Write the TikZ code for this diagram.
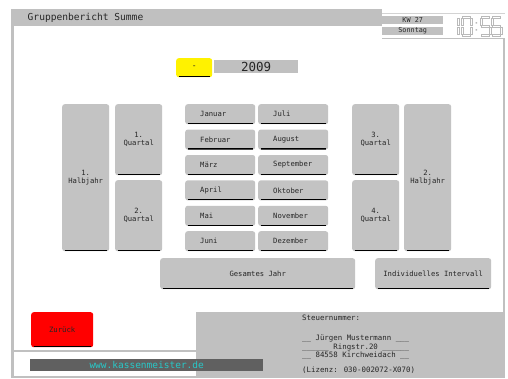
\documentclass[tikz,border=0pt]{standalone}
\usepackage{fontspec}
\newfontfamily\mono{DejaVu Sans Mono}
\definecolor{btn}{RGB}{195,195,195}
\definecolor{frame}{RGB}{192,192,192}
\definecolor{shade}{RGB}{80,80,80}
\definecolor{urlbar}{RGB}{96,96,96}
\definecolor{urltext}{RGB}{40,200,200}
\definecolor{clock}{RGB}{185,185,185}
\tikzset{
  btn/.style={fill=btn, rounded corners=2.5pt, anchor=north west, inner sep=0pt,
    text=black!85, font=\mono\fontsize{7.2}{8}\selectfont, align=center,
    path picture={\draw[shade, line width=1.2pt]
      ([xshift=2.5pt,yshift=0.6pt]path picture bounding box.south west) --
      ([xshift=-2.5pt,yshift=0.6pt]path picture bounding box.south east);}},
  month/.style={btn, minimum width=70pt, minimum height=20pt, text width=40pt, align=left},
  quart/.style={btn, minimum width=47pt, minimum height=71pt},
  half/.style={btn, minimum width=47pt, minimum height=147pt},
  plain/.style={anchor=north west, inner sep=0pt, text=black!85},
  info/.style={anchor=west, inner sep=0pt, text=black!85, font=\mono\fontsize{7.4}{8}\selectfont},
  seg/.style={draw=clock, line width=0.5pt}
}
\begin{document}
\begin{tikzpicture}[x=1pt,y=-1pt]
\useasboundingbox (0,0) rectangle (508,378);
% frame
\fill[frame] (11,9) rectangle (382,26);
\node[anchor=west, inner sep=0pt, text=black!85, font=\mono\fontsize{9.6}{10}\selectfont] (title) at (27.5,17.5) {Gruppenbericht Summe};
\fill[frame] (11,26) rectangle (13.5,378);
\fill[frame] (502.5,38) rectangle (505,312);
\draw[frame!70, line width=0.8pt] (382,13) -- (505,13);
\draw[frame, line width=1.5pt] (382,38.5) -- (505,38.5);
\node[plain, fill=frame, minimum width=61pt, minimum height=8pt, font=\mono\fontsize{6.8}{7}\selectfont] (kw) at (382,16) {KW 27};
\node[plain, fill=frame, minimum width=61pt, minimum height=8pt, font=\mono\fontsize{6.8}{7}\selectfont] (day) at (382,27) {Sonntag};
% clock 10:55 (hollow seven-segment digits)
\draw[seg] (457,18) rectangle (459,25.5) (457,27.5) rectangle (459,34);
\draw[seg] (462.5,16.5) rectangle (470.5,18.5) (470,18.5) rectangle (472,25.5) (470,27.5) rectangle (472,34)
  (462.5,34) rectangle (470.5,36) (461,27.5) rectangle (463,34) (461,18.5) rectangle (463,25.5);
\fill[clock] (475.5,22) rectangle (477,23.5) (475.5,29) rectangle (477,30.5);
\draw[seg] (481.5,16.5) rectangle (489.5,18.5) (480,18.5) rectangle (482,25.5) (481.5,25.5) rectangle (489.5,27.5)
  (489,27.5) rectangle (491,34) (481.5,34) rectangle (489.5,36);
\draw[seg] (492.5,16.5) rectangle (500.5,18.5) (491,18.5) rectangle (493,25.5) (492.5,25.5) rectangle (500.5,27.5)
  (500,27.5) rectangle (502,34) (492.5,34) rectangle (500.5,36);
% year selector
\node[btn, fill=yellow, minimum width=36pt, minimum height=19pt, font=\mono\fontsize{8}{8}\selectfont] (minus) at (176,58) {-};
\node[plain, fill=frame, minimum width=84pt, minimum height=13pt, font=\mono\fontsize{12.5}{13}\selectfont] (year) at (214,60) {2009};
% half years and quarters
\node[half] (h1) at (62,104) {1.\\Halbjahr};
\node[quart] (q1) at (115,104) {1.\\Quartal};
\node[quart] (q2) at (115,180) {2.\\Quartal};
\node[quart] (q3) at (352,104) {3.\\Quartal};
\node[quart] (q4) at (352,180) {4.\\Quartal};
\node[half] (h2) at (404,104) {2.\\Halbjahr};
% months
\node[month] (m1) at (185,104) {Januar};
\node[month] (m2) at (185,129.4) {Februar};
\node[month] (m3) at (185,154.8) {März};
\node[month] (m4) at (185,180.2) {April};
\node[month] (m5) at (185,205.6) {Mai};
\node[month] (m6) at (185,231) {Juni};
\node[month] (m7) at (258,104) {Juli};
\node[month] (m8) at (258,129.4) {August};
\node[month] (m9) at (258,154.8) {September};
\node[month] (m10) at (258,180.2) {Oktober};
\node[month] (m11) at (258,205.6) {November};
\node[month] (m12) at (258,231) {Dezember};
% bottom row buttons
\node[btn, minimum width=195pt, minimum height=31pt] (year all) at (160,258) {Gesamtes Jahr};
\node[btn, minimum width=116pt, minimum height=31pt] (interval) at (375,258) {Individuelles Intervall};
% footer
\node[btn, fill=red, minimum width=62pt, minimum height=35pt, font=\mono\fontsize{7.3}{8}\selectfont] (back) at (31,312) {Zurück};
\fill[frame] (13.5,349.5) rectangle (196,351.5);
\fill[frame] (13.5,375.5) rectangle (196,377.5);
\fill[frame] (196,312) rectangle (505,378);
\node[plain, fill=urlbar, minimum width=233pt, minimum height=12pt, text=urltext, font=\mono\fontsize{9.5}{10}\selectfont] (url) at (30,359) {www.kassenmeister.de};
\node[info] (tax) at (302,318) {Steuernummer:};
\node[info] (name) at (302,339) {\_\_ Jürgen Mustermann \_\_\_};
\node[info] (street) at (302,347.5) {\_\_\_\_\_\_ Ringstr.20 \_\_\_\_\_\_};
\node[info] (city) at (302,356) {\_\_ 84558 Kirchweidach \_\_};
\node[info] (lic) at (302,370) {(Lizenz: 030-002072-X070)};
\end{tikzpicture}
\end{document}
